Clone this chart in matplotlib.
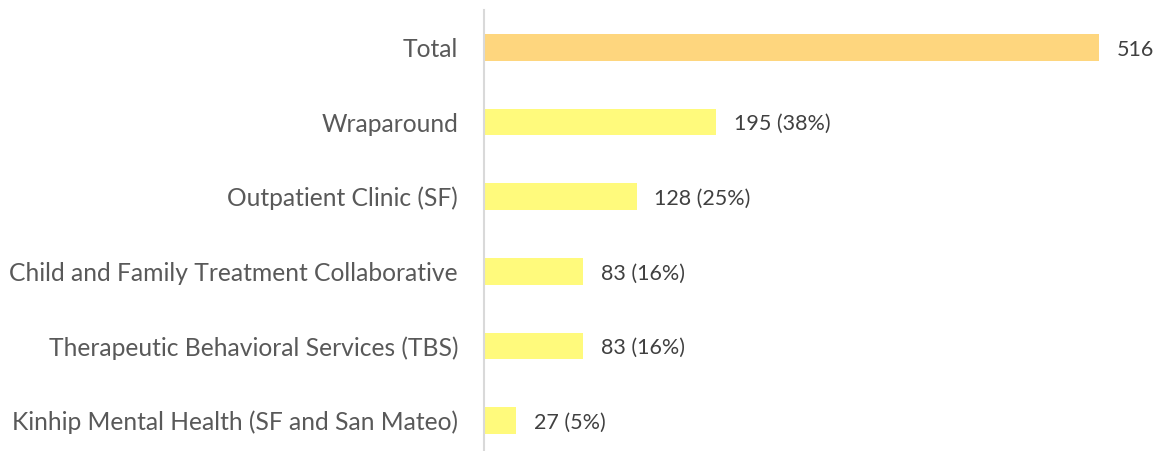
import numpy as np
import matplotlib
matplotlib.use("Agg")
import matplotlib.pyplot as plt

# data
categories = ["Total", "Wraparound", "Outpatient Clinic (SF)",
              "Child and Family Treatment Collaborative",
              "Therapeutic Behavioral Services (TBS)",
              "Kinhip Mental Health (SF and San Mateo)"]
values = [516, 195, 128, 83, 83, 27]
value_labels = ["516", "195 (38%)", "128 (25%)", "83 (16%)", "83 (16%)", "27 (5%)"]
bar_colors = ["#FED67E", "#FFFA7C", "#FFFA7C", "#FFFA7C", "#FFFA7C", "#FFFA7C"]

plt.rcParams['font.family'] = ['Lato', 'DejaVu Sans']

fig = plt.figure(figsize=(11.6, 4.51), dpi=100)
ax = fig.add_axes([484 / 1160, 1 - 458 / 451, (1150 - 484) / 1160, 448 / 451])

y = np.arange(len(categories))
ax.barh(y, values, height=0.36, color=bar_colors)
ax.set_ylim(len(categories) - 0.5, -0.5)
ax.set_xlim(0, 559)

for yi, v, lab in zip(y, values, value_labels):
    ax.text(v + 15, yi + 0.03, lab, va="center", ha="left", fontsize=15.5, color="#404040")

ax.set_yticks(y)
ax.set_yticklabels(categories, fontsize=17.7, color="#595959")
ax.tick_params(axis="y", length=0, pad=18.7)
ax.set_xticks([])
for s in ["top", "right", "bottom"]:
    ax.spines[s].set_visible(False)
ax.spines["left"].set_color("#D9D9D9")
ax.spines["left"].set_linewidth(1.5)

fig.savefig("out.png", dpi=100)
